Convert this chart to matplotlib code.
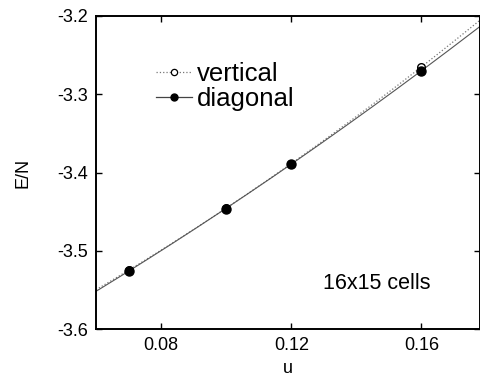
import numpy as np
import matplotlib
matplotlib.use('Agg')
import matplotlib.pyplot as plt

plt.rcParams['font.family'] = ['Liberation Sans', 'DejaVu Sans']

## data
u = [0.07, 0.10, 0.12, 0.16]
e_vertical = [-3.525, -3.445, -3.389, -3.265]
e_diagonal = [-3.526, -3.446, -3.389, -3.270]

x_ticks = [0.08, 0.12, 0.16]
y_ticks = [-3.6, -3.5, -3.4, -3.3, -3.2]
x_lim = (0.06, 0.178)
y_lim = (-3.6, -3.2)


def fit_curve(x, y, xlim):  ## quadratic fit through the points
    c = np.polyfit(x, y, 2)
    xx = np.linspace(xlim[0], xlim[1], 200)
    return xx, np.polyval(c, xx)


def main():
    fig = plt.figure(figsize=(4.81, 3.80), dpi=100)
    ax = fig.add_axes([0.1996, 0.134, 0.7984, 0.824])

    xv, yv = fit_curve(u, e_vertical, x_lim)
    xd, yd = fit_curve(u, e_diagonal, x_lim)

    ax.plot(xv, yv, linestyle=':', color='#777777', linewidth=0.9)
    ax.plot(xd, yd, linestyle='-', color='#555555', linewidth=0.8)

    ax.plot(u, e_vertical, linestyle='none', marker='o', markersize=5.5,
            markerfacecolor='white', markeredgecolor='black', markeredgewidth=1.0)
    ax.plot(u, e_diagonal, linestyle='none', marker='o', markersize=6.5,
            color='black')

    # legend handles
    h1, = ax.plot([], [], linestyle=':', color='#777777', linewidth=0.9,
                  marker='o', markersize=4.5, markerfacecolor='white',
                  markeredgecolor='black', markeredgewidth=0.9)
    h2, = ax.plot([], [], linestyle='-', color='#444444', linewidth=0.9,
                  marker='o', markersize=5, markerfacecolor='black',
                  markeredgecolor='black')
    ax.legend([h1, h2], ['vertical', 'diagonal'], loc='upper left',
              bbox_to_anchor=(0.155, 0.853), frameon=False, fontsize=18.5,
              handlelength=1.4, handletextpad=0.2, labelspacing=0.05,
              borderpad=0, borderaxespad=0)

    ax.text(0.59, 0.145, '16x15 cells', transform=ax.transAxes, fontsize=15.5,
            ha='left', va='center')

    ax.set_xlim(*x_lim)
    ax.set_ylim(*y_lim)
    ax.set_xticks(x_ticks)
    ax.set_xticklabels(['0.08', '0.12', '0.16'])
    ax.set_yticks(y_ticks)
    ax.set_yticklabels(['-3.6', '-3.5', '-3.4', '-3.3', '-3.2'])
    ax.tick_params(direction='in', top=True, right=True, length=4.5, width=1.0,
                   labelsize=13, pad=6)
    for s in ax.spines.values():
        s.set_linewidth(1.4)

    ax.set_xlabel('u', fontsize=13, labelpad=4)
    ax.set_ylabel('E/N', fontsize=13, labelpad=18)

    fig.savefig('out.png', dpi=100)


if __name__ == '__main__':
    main()
